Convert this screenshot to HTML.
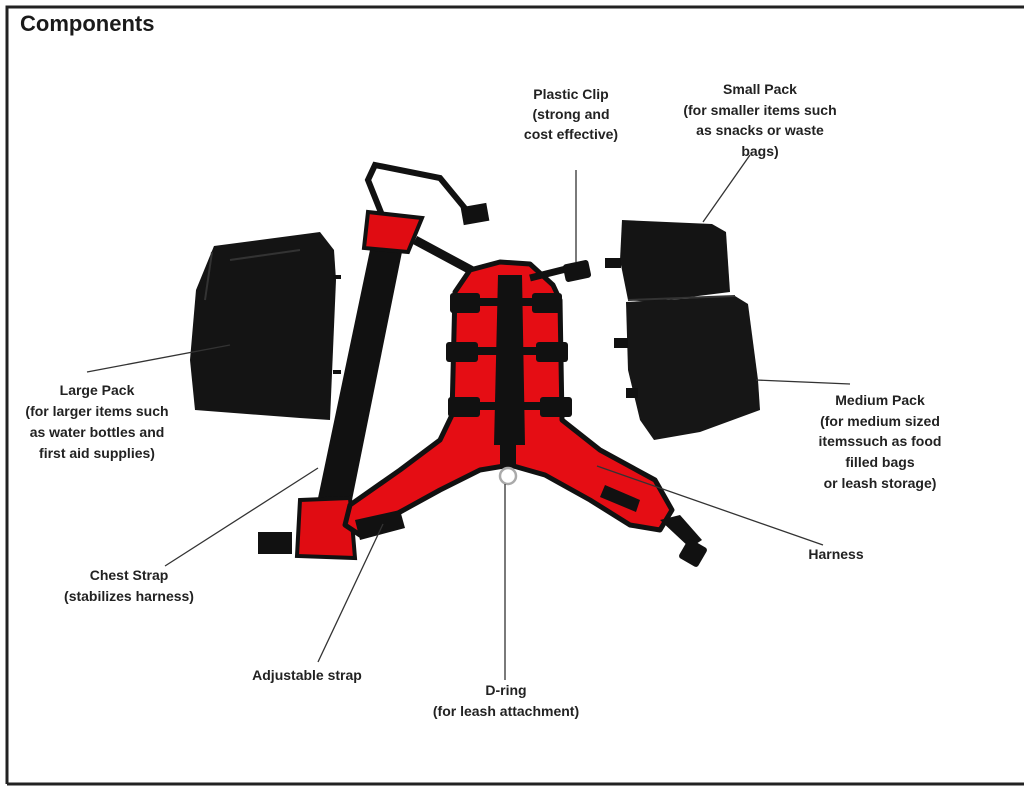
<!DOCTYPE html>
<html><head><meta charset="utf-8"><style>
html,body{margin:0;padding:0;background:#fff}
svg{display:block}
text{font-family:"Liberation Sans",sans-serif;font-weight:bold;fill:#222;font-size:14px;text-anchor:middle}
</style></head><body>
<svg width="1024" height="791" viewBox="0 0 1024 791">
<rect x="0" y="0" width="1024" height="791" fill="#fff"/>
<!-- frame -->
<path d="M7,784 L7,7 L1024,7" fill="none" stroke="#222" stroke-width="3"/>
<line x1="7" y1="784" x2="1024" y2="784" stroke="#222" stroke-width="3"/>
<text x="20" y="31" style="font-size:22px;text-anchor:start;fill:#1a1a1a">Components</text>

<!-- large pack -->
<path d="M214,246 L320,232 L334,250 L336,280 L330,420 L300,418 L195,410 L190,360 L196,290 Z" fill="#141414"/>
<path d="M212,252 L205,300 M230,260 L300,250" stroke="#333" stroke-width="2" fill="none"/>
<rect x="333" y="275" width="8" height="4" fill="#111"/>
<rect x="333" y="370" width="8" height="4" fill="#111"/>

<!-- top loop strap -->
<path d="M382,215 L368,180 L375,165 L440,178 L468,212" fill="none" stroke="#111" stroke-width="6"/>
<rect x="462" y="205" width="26" height="18" fill="#111" transform="rotate(-10 475 214)"/>
<!-- chest strap band -->
<path d="M370,250 L402,252 L352,500 L318,498 Z" fill="#111"/>
<path d="M368,212 L422,218 L408,252 L364,248 Z" fill="#e00c12" stroke="#111" stroke-width="4"/>
<path d="M300,500 L350,498 L355,558 L297,556 Z" fill="#e00c12" stroke="#111" stroke-width="4"/>
<rect x="258" y="532" width="34" height="22" fill="#111"/>
<!-- strap from shoulder to harness -->
<path d="M415,240 L480,275 L540,280" fill="none" stroke="#111" stroke-width="9"/>

<!-- harness -->
<path d="M455,292 L470,270 L500,262 L530,264 L553,285 L560,300 L562,420 L600,450 L655,480 L672,510 L660,530 L630,525 L590,500 L545,475 L510,465 L480,470 L440,490 L400,512 L360,535 L345,525 L350,505 L400,470 L440,440 L452,415 Z" fill="#e50d14" stroke="#111" stroke-width="5" stroke-linejoin="round"/>
<!-- center strap -->
<path d="M498,275 L522,275 L525,445 L494,445 Z" fill="#111"/>
<rect x="500" y="445" width="16" height="20" fill="#111"/>
<circle cx="508" cy="476" r="8" fill="none" stroke="#aaa" stroke-width="2.5"/>
<!-- cross straps -->
<g fill="#111">
<rect x="452" y="298" width="110" height="8"/><rect x="450" y="293" width="30" height="20" rx="3"/><rect x="532" y="293" width="30" height="20" rx="3"/>
<rect x="448" y="347" width="118" height="8"/><rect x="446" y="342" width="32" height="20" rx="3"/><rect x="536" y="342" width="32" height="20" rx="3"/>
<rect x="450" y="402" width="120" height="8"/><rect x="448" y="397" width="32" height="20" rx="3"/><rect x="540" y="397" width="32" height="20" rx="3"/>
<path d="M530,278 L570,268" stroke="#111" stroke-width="7"/>
<rect x="564" y="262" width="26" height="18" rx="3" transform="rotate(-12 577 271)"/>
<path d="M355,520 L400,510 L405,528 L360,540 Z"/>
<path d="M605,485 L640,500 L636,512 L600,497 Z"/>
<path d="M660,520 L690,548 L702,540 L680,515 Z"/>
<rect x="682" y="542" width="22" height="22" rx="3" transform="rotate(30 693 553)"/>
</g>

<!-- small pack -->
<path d="M622,220 L712,224 L726,232 L730,292 L650,302 L628,300 L620,260 Z" fill="#141414"/>
<!-- medium pack -->
<path d="M626,302 L735,296 L748,304 L758,380 L760,410 L700,432 L654,440 L640,420 L628,370 Z" fill="#161616"/>
<path d="M628,300 L735,296" stroke="#333" stroke-width="2"/>
<g fill="#111"><rect x="605" y="258" width="16" height="10"/><rect x="614" y="338" width="14" height="10"/><rect x="626" y="388" width="12" height="10"/></g>

<!-- leader lines -->
<g stroke="#333" stroke-width="1.3" fill="none">
<line x1="87" y1="372" x2="230" y2="345"/>
<line x1="576" y1="170" x2="576" y2="262"/>
<line x1="750" y1="155" x2="703" y2="222"/>
<line x1="756" y1="380" x2="850" y2="384"/>
<line x1="597" y1="466" x2="823" y2="545"/>
<line x1="165" y1="566" x2="318" y2="468"/>
<line x1="318" y1="662" x2="383" y2="524"/>
<line x1="505" y1="484" x2="505" y2="680"/>
</g>

<!-- labels -->
<text x="571" y="99">Plastic Clip</text>
<text x="571" y="119">(strong and</text>
<text x="571" y="139">cost effective)</text>
<text x="760" y="94">Small Pack</text>
<text x="760" y="115">(for smaller items such</text>
<text x="760" y="135">as snacks or waste</text>
<text x="760" y="156">bags)</text>
<text x="97" y="395">Large Pack</text>
<text x="97" y="416">(for larger items such</text>
<text x="97" y="437">as water bottles and</text>
<text x="97" y="458">first aid supplies)</text>
<text x="880" y="405">Medium Pack</text>
<text x="880" y="426">(for medium sized</text>
<text x="880" y="446">itemssuch as food</text>
<text x="880" y="467">filled bags</text>
<text x="880" y="488">or leash storage)</text>
<text x="836" y="559">Harness</text>
<text x="129" y="580">Chest Strap</text>
<text x="129" y="601">(stabilizes harness)</text>
<text x="307" y="680">Adjustable strap</text>
<text x="506" y="695">D-ring</text>
<text x="506" y="716">(for leash attachment)</text>
</svg>
</body></html>
